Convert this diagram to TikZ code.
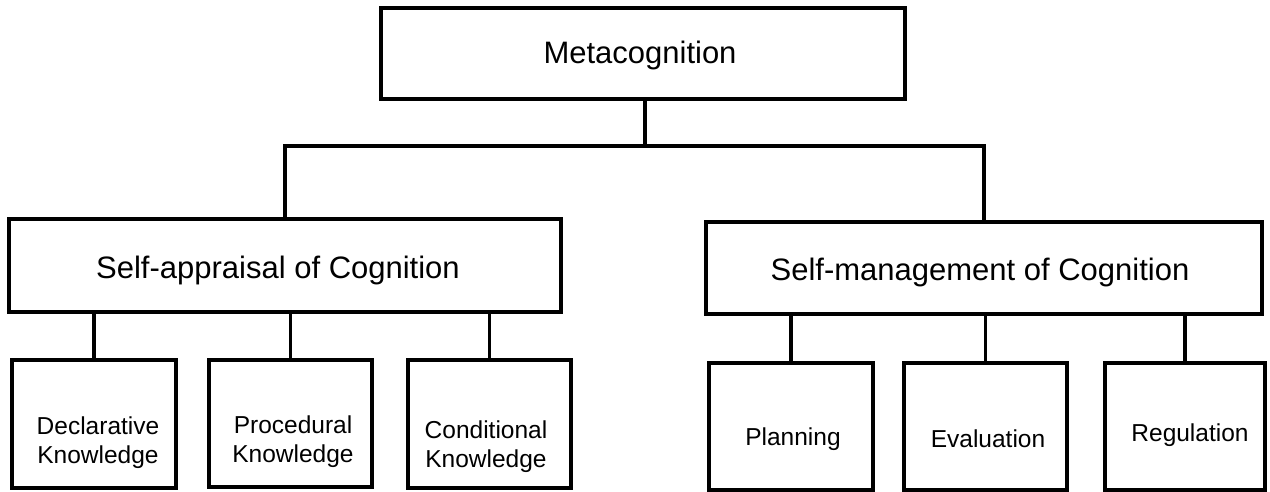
\documentclass[tikz,border=0pt]{standalone}
\usepackage{fontspec}
\setmainfont{Liberation Sans}
\begin{document}
\begin{tikzpicture}[x=1pt,y=-1pt,
  box/.style={draw, line width=3.8pt, inner sep=0pt, fill=white},
  bigtext/.style={font=\fontsize{31}{37}\selectfont},
  smalltext/.style={font=\fontsize{24.5}{29}\selectfont, align=center},
  conn/.style={line width=3.5pt}]
\useasboundingbox (0,0) rectangle (1270,491);

\node[box, minimum width=524pt, minimum height=91pt] (meta) at (643,53.5) {};
\node[bigtext] (metat) at (640,55) {Metacognition};

\node[box, minimum width=552pt, minimum height=93pt] (sa) at (285,265.5) {};
\node[bigtext] (sat) at (278,270) {Self-appraisal of Cognition};

\node[box, minimum width=556pt, minimum height=92pt] (sm) at (984,268) {};
\node[bigtext] (smt) at (980,272) {Self-management of Cognition};

\node[box, minimum width=164pt, minimum height=128pt] (decl) at (94,424) {};
\node[smalltext] (declt) at (98,443) {Declarative\\Knowledge};
\node[box, minimum width=163pt, minimum height=127pt] (proc) at (290.5,423.5) {};
\node[smalltext] (proct) at (293,442) {Procedural\\Knowledge};
\node[box, minimum width=163pt, minimum height=128pt] (cond) at (489.5,424) {};
\node[smalltext] (condt) at (486,447) {Conditional\\Knowledge};

\node[box, minimum width=164pt, minimum height=127pt] (plan) at (791,426.5) {};
\node[smalltext] (plant) at (793,439) {Planning};
\node[box, minimum width=163pt, minimum height=127pt] (eval) at (985.5,426.5) {};
\node[smalltext] (evalt) at (988,439) {Evaluation};
\node[box, minimum width=160pt, minimum height=127pt] (reg) at (1185,426.5) {};
\node[smalltext] (regt) at (1190,435) {Regulation};

\coordinate (bus) at (645,146);
\draw[conn] (meta.south -| bus) -- (bus);
\draw[conn] (sa.north) |- (bus) -| (sm.north);

\foreach \c in {decl,proc,cond}
  \draw[conn] (\c.north) -- (\c.north |- sa.south);
\foreach \c in {plan,eval,reg}
  \draw[conn] (\c.north) -- (\c.north |- sm.south);
\end{tikzpicture}
\end{document}
